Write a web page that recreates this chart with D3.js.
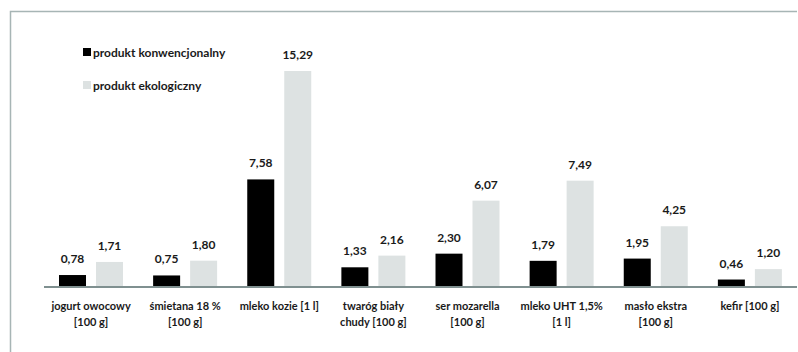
<!DOCTYPE html>
<html>
<head>
<meta charset="utf-8">
<script src="https://cdn.jsdelivr.net/npm/d3@7"></script>
<style>
  html, body { margin: 0; padding: 0; background: #fff; }
  text { font-family: Lato, "Open Sans", sans-serif; font-weight: bold; fill: #1a1a1a; }
</style>
</head>
<body>
<div id="chart"></div>
<script>
const categories = [
    ['jogurt owocowy', '[100 g]'],
    ['śmietana 18 %', '[100 g]'],
    ['mleko kozie [1 l]'],
    ['twaróg biały', 'chudy [100 g]'],
    ['ser mozarella', '[100 g]'],
    ['mleko UHT 1,5%', '[1 l]'],
    ['masło ekstra', '[100 g]'],
    ['kefir [100 g]']
];
const conventional = [0.78, 0.75, 7.58, 1.33, 2.30, 1.79, 1.95, 0.46];
const ecological = [1.71, 1.80, 15.29, 2.16, 6.07, 7.49, 4.25, 1.20];
const seriesNames = ['produkt konwencjonalny', 'produkt ekologiczny'];
const colors = ['#000000', '#dde2e2'];

const width = 798, height = 352;
const svg = d3.select('#chart').append('svg')
              .attr('width', width)
              .attr('height', height);

// frame (only top and left edges show)
svg.append('path')
   .attr('d', 'M10.5,352 V11.5 H797')
   .attr('fill', 'none')
   .attr('stroke', '#a7b5b5')
   .attr('stroke-width', 1.5);

const x0 = d3.scaleBand()
             .domain(d3.range(categories.length))
             .range([44, 797]);

const x1 = d3.scaleBand()
             .domain([0, 1])
             .range([15, 79])
             .paddingInner(0.27);

const y = d3.scaleLinear()
            .domain([0, 15.29])
            .range([286, 71]);

const fmt = v => d3.format('.2f')(v).replace('.', ',');

const groups = svg.selectAll('g.group')
                  .data(categories.map((c, i) => [conventional[i], ecological[i]]))
                  .enter().append('g')
                  .attr('class', 'group')
                  .attr('transform', (d, i) => `translate(${x0(i)},0)`);

groups.selectAll('rect')
      .data(d => d)
      .enter().append('rect')
      .attr('x', (d, j) => x1(j))
      .attr('width', x1.bandwidth())
      .attr('y', d => y(d))
      .attr('height', d => y(0) - y(d))
      .attr('fill', (d, j) => colors[j]);

groups.selectAll('text.value')
      .data(d => d)
      .enter().append('text')
      .attr('class', 'value')
      .attr('x', (d, j) => x1(j) + x1.bandwidth() / 2)
      .attr('y', d => y(d) - 12)
      .attr('text-anchor', 'middle')
      .attr('font-size', 12)
      .text(fmt);

// axis line
svg.append('line')
   .attr('x1', 44).attr('x2', 797)
   .attr('y1', 287).attr('y2', 287)
   .attr('stroke', '#7f9090')
   .attr('stroke-width', 2);

// category labels
const labels = svg.selectAll('text.cat')
                  .data(categories)
                  .enter().append('text')
                  .attr('class', 'cat')
                  .attr('x', (d, i) => x0(i) + x0.bandwidth() / 2)
                  .attr('y', 310)
                  .attr('text-anchor', 'middle')
                  .attr('font-size', 11);

labels.selectAll('tspan')
      .data(d => d)
      .enter().append('tspan')
      .attr('x', function() { return this.parentNode.getAttribute('x'); })
      .attr('dy', (d, k) => k === 0 ? 0 : 16)
      .text(d => d);

// legend
const legend = svg.selectAll('g.legend')
                  .data(seriesNames)
                  .enter().append('g')
                  .attr('class', 'legend')
                  .attr('transform', (d, i) => `translate(83,${48 + i * 33})`);

legend.append('rect')
      .attr('width', 8).attr('height', 8)
      .attr('fill', (d, i) => colors[i]);

legend.append('text')
      .attr('x', 10)
      .attr('y', 8.5)
      .attr('font-size', 12)
      .text(d => d);
</script>
</body>
</html>
